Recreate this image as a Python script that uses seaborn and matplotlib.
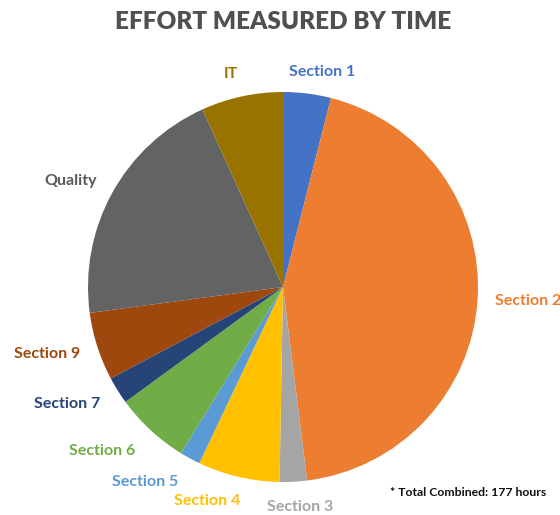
import matplotlib
matplotlib.use("Agg")
import matplotlib.pyplot as plt
import seaborn as sns

# ---- data ----
categories = ["Section 1", "Section 2", "Section 3", "Section 4", "Section 5",
              "Section 6", "Section 7", "Section 9", "Quality", "IT"]
hours = [7, 78, 4, 12, 3, 11, 4, 10, 36, 12]
title = "EFFORT MEASURED BY TIME"
note = "* Total Combined: 177 hours"

# ---- style ----
colors = ["#4472C4", "#ED7D31", "#A5A5A5", "#FFC000", "#5B9BD5",
          "#70AD47", "#264478", "#9E480E", "#636363", "#997300"]
label_colors = ["#4472C4", "#ED7D31", "#A5A5A5", "#FFC000", "#5B9BD5",
                "#70AD47", "#264478", "#9E480E", "#595959", "#997300"]
# label anchor positions in pixels (x, y from top), alignment
label_pos = [(322, 72, "center"), (495, 301, "left"), (300, 507, "center"),
             (207, 501, "center"), (145, 482, "center"), (102, 451, "center"),
             (67, 404, "center"), (47, 354, "center"), (71, 181, "center"),
             (231, 74, "center")]

sns.set_theme(style="white")
plt.rcParams["font.family"] = ["Lato", "DejaVu Sans"]

W, H = 560, 515
fig = plt.figure(figsize=(W / 100, H / 100), dpi=100)
cx, cy, r = 283, 287, 195
ax = fig.add_axes([(cx - r) / W, 1 - (cy + r) / H, 2 * r / W, 2 * r / H])
ax.pie(hours, colors=colors, startangle=90, counterclock=False,
       wedgeprops=dict(linewidth=0))
ax.set_xlim(-1, 1)
ax.set_ylim(-1, 1)
ax.set_aspect("equal")
ax.axis("off")

for cat, col, (px, py, ha) in zip(categories, label_colors, label_pos):
    fig.text(px / W, 1 - py / H, cat, color=col, fontsize=11.5,
             fontweight="bold", ha=ha, va="center")

fig.text(283 / W, 1 - 22 / H, title, color="#505050", fontsize=17.5,
         fontweight="heavy", ha="center", va="center")
fig.text(468 / W, 1 - 492 / H, note, color="#111111", fontsize=8.8,
         fontweight="bold", ha="center", va="center")

fig.savefig("out.png", dpi=100)
